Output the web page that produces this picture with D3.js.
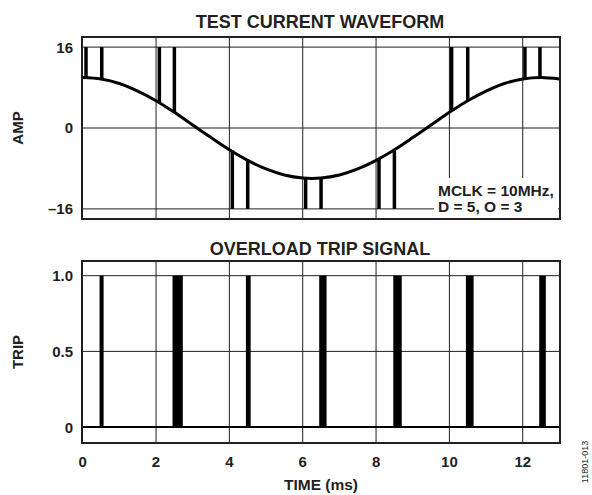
<!DOCTYPE html>
<html>
<head>
<meta charset="utf-8">
<script src="https://cdn.jsdelivr.net/npm/d3@7"></script>
<style>
  body { margin: 0; background: #fff; }
  text { font-family: "Liberation Sans", Arial, sans-serif; font-weight: bold; fill: #231f20; }
</style>
</head>
<body>
<div id="chart"></div>
<script>
// waveform (time in ms, amplitude)
const waveTime = [0, 0.5, 1, 1.5, 2, 2.5, 3, 3.5, 4, 4.5, 5, 5.5, 6, 6.5, 7, 7.5, 8, 8.5, 9, 9.5, 10, 10.5, 11, 11.5, 12, 12.5, 13];
const waveAmp = [10, 9.7, 8.8, 7.3, 5.4, 3.1, 0.6, -1.9, -4.3, -6.4, -8.1, -9.3, -9.9, -9.9, -9.3, -8.1, -6.4, -4.3, -1.9, 0.6, 3.1, 5.4, 7.3, 8.8, 9.7, 10, 9.7];

// overload spikes: time, start on the curve, end at the clamp
const spikeTime = [0.09, 0.52, 2.09, 2.5, 4.08, 4.5, 6.08, 6.5, 8.08, 8.5, 10.06, 10.5, 12.06, 12.47];
const spikeFrom = [9.95, 9.7, 5.1, 3.2, -4.4, -6.3, -9.95, -9.9, -6.1, -4.4, 3.5, 5.5, 9.7, 10];
const spikeTo = [16, 16, 16, 16, -16, -16, -16, -16, -16, -16, 16, 16, 16, 16];

// trip pulses (start, end in ms)
const tripStart = [0.46, 2.45, 4.45, 6.45, 8.47, 10.45, 12.45];
const tripEnd = [0.57, 2.73, 4.58, 6.65, 8.70, 10.66, 12.63];

const xTicks = [0, 2, 4, 6, 8, 10, 12];
const ampTicks = [16, 0, -16];
const ampLabels = ['16', '0', '\u201316'];
const tripTicks = [1, 0.5, 0];
const tripLabels = ['1.0', '0.5', '0'];

const w = 592, h = 495;

const svg = d3.select('#chart')
	.append('svg')
	.attr('width', w)
	.attr('height', h);

const x = d3.scaleLinear().domain([0, 13]).range([82.7, 559.4]);
const yAmp = d3.scaleLinear().domain([-18, 18]).range([219, 37]);
const yTrip = d3.scaleLinear().domain([-0.105, 1.097]).range([443, 261]);

// draws frame + grid for one panel
const panel = (y, ticks, labels, title, titleY, axisName) => {
	const g = svg.append('g');
	const [y0, y1] = y.range();

	g.selectAll('.vgrid')
		.data(xTicks.slice(1))
		.enter()
		.append('line')
		.attr('x1', (d) => x(d))
		.attr('x2', (d) => x(d))
		.attr('y1', y1)
		.attr('y2', y0)
		.attr('stroke', '#231f20')
		.attr('stroke-width', 1);

	g.selectAll('.hgrid')
		.data(ticks)
		.enter()
		.append('line')
		.attr('x1', x(0))
		.attr('x2', x(13))
		.attr('y1', (d) => y(d))
		.attr('y2', (d) => y(d))
		.attr('stroke', '#231f20')
		.attr('stroke-width', 1);

	g.selectAll('.ylab')
		.data(ticks)
		.enter()
		.append('text')
		.attr('x', 73)
		.attr('y', (d) => y(d))
		.attr('dy', '0.36em')
		.attr('text-anchor', 'end')
		.style('font-size', '15px')
		.text((d, i) => labels[i]);

	svg.append('text')
		.attr('x', 320)
		.attr('y', titleY)
		.attr('text-anchor', 'middle')
		.style('font-size', '18px')
		.text(title);

	svg.append('text')
		.attr('transform', 'translate(23,' + ((y0 + y1) / 2) + ') rotate(-90)')
		.attr('text-anchor', 'middle')
		.style('font-size', '15px')
		.text(axisName);

	return g;
};

// top panel
const ampPanel = panel(yAmp, ampTicks, ampLabels, 'TEST CURRENT WAVEFORM', 28, 'AMP');

ampPanel.selectAll('.spike')
	.data(spikeTime)
	.enter()
	.append('line')
	.attr('x1', (d) => x(d))
	.attr('x2', (d) => x(d))
	.attr('y1', (d, i) => yAmp(spikeFrom[i]))
	.attr('y2', (d, i) => yAmp(spikeTo[i]))
	.attr('stroke', '#000')
	.attr('stroke-width', 3.5);

ampPanel.append('path')
	.datum(waveTime)
	.attr('fill', 'none')
	.attr('stroke', '#000')
	.attr('stroke-width', 3)
	.attr('d', d3.line()
		.x((d) => x(d))
		.y((d, i) => yAmp(waveAmp[i]))
		.curve(d3.curveCardinal));

// legend box
ampPanel.append('rect')
	.attr('x', 434)
	.attr('y', 178)
	.attr('width', 124)
	.attr('height', 40)
	.attr('fill', '#fff');
ampPanel.append('text')
	.attr('x', 438)
	.attr('y', 196)
	.style('font-size', '15.5px')
	.text('MCLK = 10MHz,');
ampPanel.append('text')
	.attr('x', 438)
	.attr('y', 211.5)
	.style('font-size', '15.5px')
	.text('D = 5, O = 3');

ampPanel.append('rect')
	.attr('x', 82)
	.attr('y', 37)
	.attr('width', 478)
	.attr('height', 182)
	.attr('fill', 'none')
	.attr('stroke', '#231f20')
	.attr('stroke-width', 2);

// bottom panel
const tripPanel = panel(yTrip, tripTicks, tripLabels, 'OVERLOAD TRIP SIGNAL', 254.5, 'TRIP');

tripPanel.append('line')
	.attr('x1', x(0))
	.attr('x2', x(13))
	.attr('y1', yTrip(0))
	.attr('y2', yTrip(0))
	.attr('stroke', '#000')
	.attr('stroke-width', 2);

tripPanel.selectAll('.pulse')
	.data(tripStart)
	.enter()
	.append('rect')
	.attr('x', (d) => x(d))
	.attr('width', (d, i) => x(tripEnd[i]) - x(d))
	.attr('y', yTrip(1))
	.attr('height', yTrip(0) - yTrip(1))
	.attr('fill', '#000');

tripPanel.append('rect')
	.attr('x', 82)
	.attr('y', 261)
	.attr('width', 478)
	.attr('height', 182)
	.attr('fill', 'none')
	.attr('stroke', '#231f20')
	.attr('stroke-width', 2);

// x axis
svg.selectAll('.xlab')
	.data(xTicks)
	.enter()
	.append('text')
	.attr('x', (d) => x(d))
	.attr('y', 467)
	.attr('text-anchor', 'middle')
	.style('font-size', '15px')
	.text((d) => d);

svg.append('text')
	.attr('x', 321)
	.attr('y', 490)
	.attr('text-anchor', 'middle')
	.style('font-size', '15.5px')
	.text('TIME (ms)');

svg.append('text')
	.attr('transform', 'translate(588,462) rotate(-90)')
	.attr('text-anchor', 'middle')
	.style('font-size', '9px')
	.style('font-weight', 'normal')
	.text('11801-013');
</script>
</body>
</html>
